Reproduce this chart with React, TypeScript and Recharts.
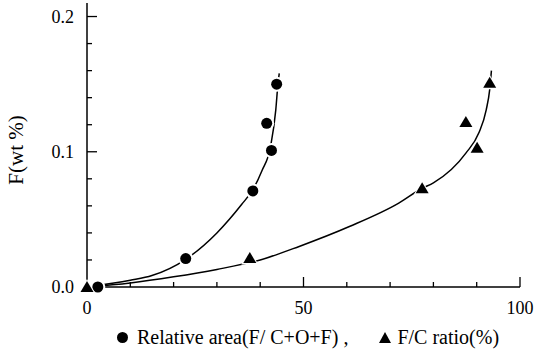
import { ComposedChart, Line, Scatter, XAxis, YAxis } from 'recharts';

// measured points
const relAreaPoints = [
  { x: 2.5, y: 0 },
  { x: 22.8, y: 0.021 },
  { x: 38.3, y: 0.071 },
  { x: 42.6, y: 0.101 },
  { x: 41.5, y: 0.121 },
  { x: 43.8, y: 0.15 },
];

const fcRatioPoints = [
  { x: 0, y: 0 },
  { x: 37.6, y: 0.0215 },
  { x: 77.4, y: 0.073 },
  { x: 87.5, y: 0.122 },
  { x: 90.1, y: 0.103 },
  { x: 93.0, y: 0.151 },
];

// fitted curves
const relAreaCurve = [
  { x: 0, y: 0 },
  { x: 10, y: 0.005 },
  { x: 15, y: 0.0085 },
  { x: 22.8, y: 0.0205 },
  { x: 30, y: 0.04 },
  { x: 35.7, y: 0.061 },
  { x: 38.3, y: 0.072 },
  { x: 40.4, y: 0.086 },
  { x: 42.4, y: 0.104 },
  { x: 43.6, y: 0.131 },
  { x: 44.1, y: 0.15 },
  { x: 44.4, y: 0.158 },
];

const fcRatioCurve = [
  { x: 0, y: 0 },
  { x: 10, y: 0.003 },
  { x: 20, y: 0.0075 },
  { x: 30, y: 0.013 },
  { x: 40, y: 0.02 },
  { x: 49, y: 0.03 },
  { x: 60.6, y: 0.0447 },
  { x: 72, y: 0.062 },
  { x: 77.4, y: 0.073 },
  { x: 80, y: 0.077 },
  { x: 87.5, y: 0.099 },
  { x: 90.5, y: 0.114 },
  { x: 92.2, y: 0.131 },
  { x: 93, y: 0.146 },
  { x: 93.4, y: 0.16 },
];

const xTicks = [0, 10, 20, 30, 40, 50, 60, 70, 80, 90, 100];
const xMajor = [0, 50, 100];
const yTicks = [0, 0.02, 0.04, 0.06, 0.08, 0.1, 0.12, 0.14, 0.16, 0.18, 0.2];
const yMajor = [0, 0.1, 0.2];

const FONT = "'Liberation Serif', serif";
const Y_GAP = 13;
const X_GAP = 21;

function YTick({ x, y, payload }: any) {
  const v = payload.value;
  const major = yMajor.some((m) => Math.abs(m - v) < 1e-9);
  const ax = x + Y_GAP;
  return (
    <g>
      {v !== 0 && (
        <line x1={ax} x2={ax + (major ? 10 : 5)} y1={y} y2={y} stroke="#000" strokeWidth={1.3} />
      )}
      {major && (
        <text x={x} y={y} textAnchor="end" dominantBaseline="central" style={{ fontFamily: FONT, fontSize: 18 }} fill="#000">
          {v.toFixed(1)}
        </text>
      )}
    </g>
  );
}

function XTick({ x, y, payload }: any) {
  const v = payload.value;
  const major = xMajor.includes(v);
  const ay = y - X_GAP;
  return (
    <g>
      {v !== 0 && (
        <line x1={x} x2={x} y1={ay} y2={ay - (major ? 10 : 5)} stroke="#000" strokeWidth={1.3} />
      )}
      {major && (
        <text x={x} y={y} textAnchor="middle" dominantBaseline="central" style={{ fontFamily: FONT, fontSize: 18 }} fill="#000">
          {v}
        </text>
      )}
    </g>
  );
}

function CircleMark({ cx, cy }: any) {
  return (
    <g>
      <circle cx={cx} cy={cy} r={7.5} fill="#fff" />
      <circle cx={cx} cy={cy} r={5.5} fill="#000" />
    </g>
  );
}

function TriangleMark({ cx, cy }: any) {
  return (
    <g>
      <path d={`M${cx},${cy - 8} L${cx + 8.5},${cy + 6.5} L${cx - 8.5},${cy + 6.5} Z`} fill="#fff" />
      <path d={`M${cx},${cy - 6} L${cx + 6.5},${cy + 5} L${cx - 6.5},${cy + 5} Z`} fill="#000" />
    </g>
  );
}

function YLabel({ viewBox }: any) {
  const cx = viewBox.x + 16;
  const cy = viewBox.y + viewBox.height / 2 + 5;
  return (
    <text
      transform={`translate(${cx},${cy}) rotate(-90)`}
      textAnchor="middle"
      dominantBaseline="central"
      style={{ fontFamily: FONT, fontSize: 21 }}
      fill="#000"
    >
      F(wt %)
    </text>
  );
}

export default function App() {
  return (
    <div style={{ position: 'absolute', left: 0, top: 0, width: 535, height: 351, background: '#fff' }}>
      <ComposedChart width={535} height={351} margin={{ top: 3, right: 15, bottom: 34, left: 0 }}>
        <XAxis
          dataKey="x"
          type="number"
          domain={[0, 100]}
          ticks={xTicks}
          interval={0}
          height={30}
          tickSize={0}
          tickMargin={X_GAP}
          tickLine={false}
          tick={<XTick />}
          axisLine={{ stroke: '#000', strokeWidth: 1.5 }}
        />
        <YAxis
          dataKey="y"
          type="number"
          domain={[0, 0.21]}
          ticks={yTicks}
          interval={0}
          width={87}
          tickSize={0}
          tickMargin={Y_GAP}
          tickLine={false}
          tick={<YTick />}
          axisLine={{ stroke: '#000', strokeWidth: 1.5 }}
          label={<YLabel />}
        />
        <Line
          data={relAreaCurve}
          dataKey="y"
          type="monotone"
          stroke="#000"
          strokeWidth={1.5}
          dot={false}
          activeDot={false}
          isAnimationActive={false}
        />
        <Line
          data={fcRatioCurve}
          dataKey="y"
          type="monotone"
          stroke="#000"
          strokeWidth={1.5}
          dot={false}
          activeDot={false}
          isAnimationActive={false}
        />
        <Scatter data={relAreaPoints} dataKey="y" shape={<CircleMark />} isAnimationActive={false} />
        <Scatter data={fcRatioPoints} dataKey="y" shape={<TriangleMark />} isAnimationActive={false} />
      </ComposedChart>

      <div
        style={{
          position: 'absolute',
          left: 117,
          top: 327,
          display: 'flex',
          alignItems: 'center',
          fontFamily: FONT,
          fontSize: 20,
          lineHeight: '20px',
          color: '#000',
          whiteSpace: 'pre',
        }}
      >
        <svg width={11} height={11} style={{ marginRight: 9 }}>
          <circle cx={5.5} cy={5.5} r={5.5} fill="#000" />
        </svg>
        <span>Relative area(F/ C+O+F) ,</span>
        <svg width={12} height={11} style={{ marginLeft: 31, marginRight: 6 }}>
          <path d="M6,0 L12,11 L0,11 Z" fill="#000" />
        </svg>
        <span>F/C ratio(%)</span>
      </div>
    </div>
  );
}
